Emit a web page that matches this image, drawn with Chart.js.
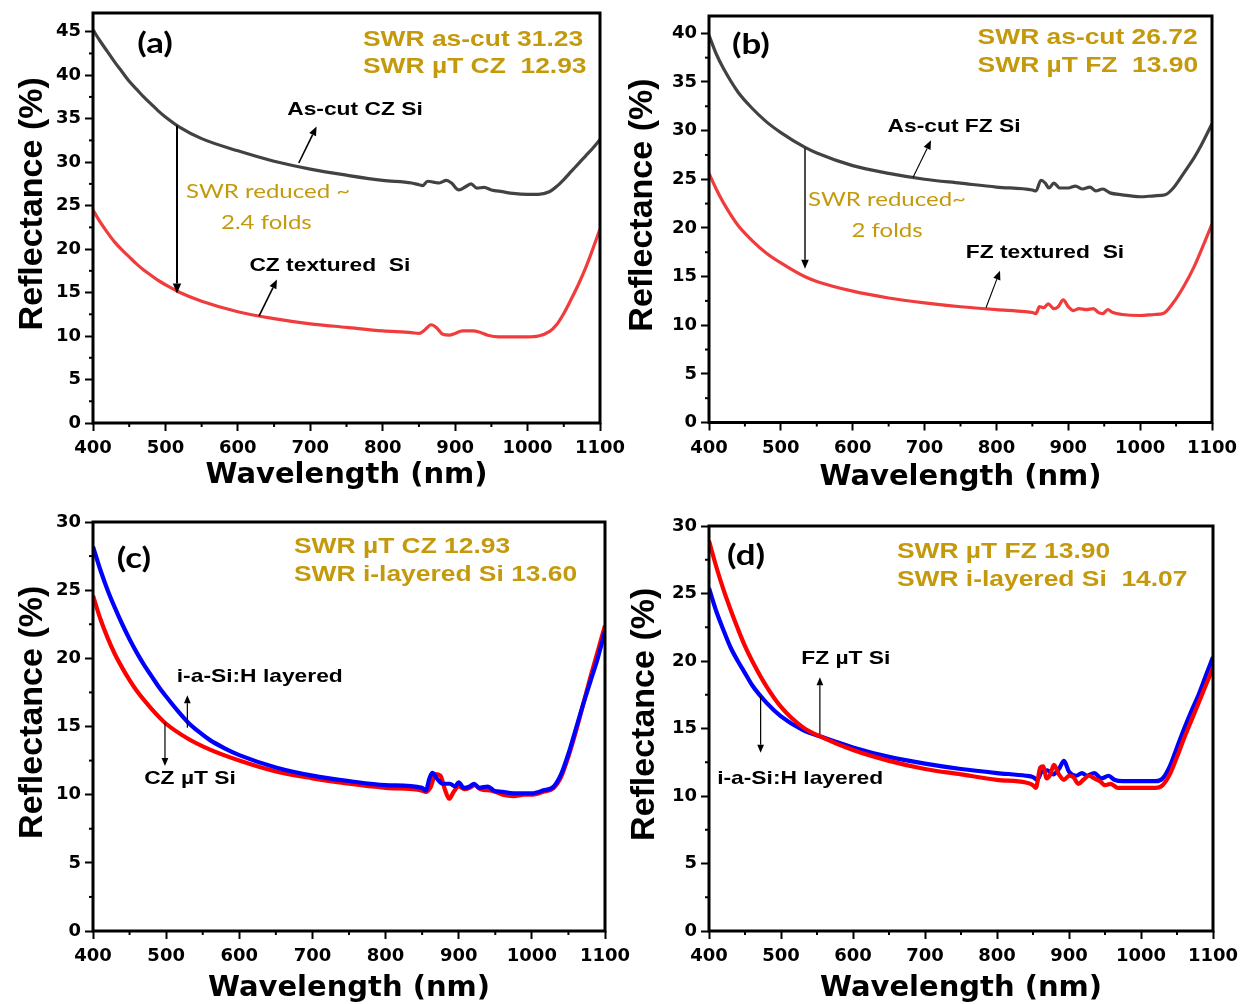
<!DOCTYPE html>
<html><head><meta charset="utf-8">
<script src="https://cdn.jsdelivr.net/npm/chart.js@4.4.1/dist/chart.umd.min.js"></script>
<style>
html,body{margin:0;padding:0;background:#fff;}
#wrap{position:relative;width:1246px;height:1004px;overflow:hidden;background:#fff;}
canvas{position:absolute;left:0;top:0;}
</style></head><body><div id="wrap">
<canvas id="pa" width="1246" height="1004"></canvas>
<canvas id="pb" width="1246" height="1004"></canvas>
<canvas id="pc" width="1246" height="1004"></canvas>
<canvas id="pd" width="1246" height="1004"></canvas>
</div>
<script>
// ---------------- DATA ----------------
const xTicks = [400,500,600,700,800,900,1000,1100];
const xTitle = 'Wavelength (nm)';
const yTitle = '   Reflectance (%)';

// (a) CZ
const wlAsCutCZ = [400,410,420,430,440,450,460,470,480,490,500,520,550,600,650,700,750,800,840,850,855,862,870,878,888,895,905,915,922,930,940,950,965,980,1000,1015,1030,1040,1050,1060,1070,1080,1090,1100];
const asCutCZ   = [45.2,43.9,42.7,41.5,40.4,39.3,38.4,37.5,36.7,35.9,35.2,34.0,32.7,31.3,30.1,29.2,28.5,27.9,27.6,27.4,27.3,27.8,27.7,27.6,27.9,27.6,26.8,27.2,27.5,27.0,27.1,26.8,26.6,26.4,26.3,26.3,26.6,27.2,28.0,28.9,29.8,30.7,31.6,32.6];
const wlTexCZ   = [400,410,420,430,440,450,460,470,480,490,500,520,550,600,650,700,750,800,840,850,858,867,875,883,892,900,910,925,935,945,960,980,1000,1015,1030,1040,1050,1060,1070,1080,1090,1100];
const texturedCZ= [24.5,23.1,21.9,20.8,19.9,19.1,18.3,17.6,17.0,16.4,15.9,15.0,14.0,12.8,12.0,11.4,11.0,10.6,10.4,10.3,10.7,11.3,10.9,10.2,10.1,10.3,10.6,10.6,10.4,10.1,9.9,9.9,9.9,10.0,10.5,11.3,12.6,14.2,15.9,17.8,20.0,22.3];

// (b) FZ
const wlAsCutFZ = [400,410,420,440,460,480,500,533,550,600,650,700,750,800,850,855,862,868,873,880,888,900,910,920,930,938,948,958,975,1000,1020,1035,1045,1055,1065,1075,1085,1100];
const asCutFZ   = [39.8,37.9,36.4,34.0,32.3,30.9,29.8,28.3,27.7,26.4,25.6,25.0,24.6,24.2,23.9,23.8,24.9,24.6,24.1,24.6,24.1,24.1,24.3,24.0,24.2,23.8,24.0,23.6,23.4,23.2,23.3,23.4,24.0,25.0,26.1,27.2,28.5,30.7];
const wlTexFZ   = [400,410,420,440,460,480,500,533,550,600,650,700,750,800,840,850,855,860,866,872,880,886,893,900,907,915,925,935,942,948,955,962,975,1000,1020,1032,1045,1060,1075,1090,1100];
const texturedFZ= [25.6,24.0,22.6,20.3,18.7,17.4,16.4,15.0,14.5,13.5,12.8,12.3,11.9,11.6,11.4,11.3,11.2,11.9,11.8,12.2,11.7,11.9,12.6,11.9,11.5,11.7,11.6,11.7,11.3,11.2,11.6,11.3,11.1,11.0,11.1,11.2,12.2,13.9,16.0,18.6,20.4];

// (c) CZ µT vs i-layered
const wlLayCZ   = [400,410,420,430,440,450,460,470,480,490,500,515,530,545,560,580,600,650,700,750,800,850,855,860,864,870,878,888,895,900,907,915,921,928,940,948,960,975,990,1000,1015,1030,1040,1050,1060,1070,1080,1090,1100];
const layeredCZ = [28.2,26.5,25.0,23.7,22.5,21.4,20.4,19.5,18.7,17.9,17.2,16.2,15.3,14.6,14.0,13.4,12.9,12.0,11.4,11.0,10.7,10.5,10.3,11.2,11.6,11.2,10.8,10.8,10.6,10.9,10.5,10.6,10.8,10.5,10.6,10.3,10.2,10.1,10.1,10.1,10.3,10.6,11.5,13.0,14.8,16.6,18.3,20.0,22.0];
const wlMuCZ    = [400,410,420,430,440,450,460,480,500,530,560,600,650,700,750,800,850,855,862,868,875,881,887,893,900,908,915,922,930,945,960,975,990,1000,1015,1030,1040,1050,1060,1070,1080,1090,1100];
const muTexCZ   = [24.6,22.9,21.5,20.3,19.3,18.4,17.6,16.3,15.2,14.1,13.3,12.5,11.7,11.2,10.8,10.5,10.3,10.2,10.6,11.5,11.4,10.4,9.7,10.2,10.6,10.4,10.5,10.7,10.4,10.3,10.0,9.9,10.0,10.0,10.2,10.5,11.3,12.8,14.6,16.6,18.6,20.5,22.4];

// (d) FZ µT vs i-layered
const wlMuFZ    = [400,410,420,430,440,450,460,480,500,530,555,600,650,700,750,800,840,850,854,860,864,869,874,879,886,893,900,906,913,920,928,935,943,950,958,968,985,1000,1020,1030,1040,1050,1060,1070,1080,1090,1100];
const muTexFZ   = [28.9,27.0,25.3,23.8,22.4,21.1,20.0,18.1,16.6,15.1,14.4,13.4,12.6,12.0,11.6,11.2,11.0,10.8,10.6,12.1,12.2,11.3,11.6,12.3,11.6,11.2,11.5,11.4,10.9,11.2,11.5,11.3,11.1,10.8,10.9,10.6,10.6,10.6,10.6,10.8,11.6,12.9,14.3,15.6,16.9,18.2,19.5];
const wlLayFZ   = [400,410,420,430,440,450,460,480,500,530,555,600,650,700,750,800,840,850,856,862,870,878,886,893,900,910,918,925,935,945,955,963,975,1000,1020,1030,1040,1050,1060,1070,1080,1090,1100];
const layeredFZ = [25.4,23.7,22.3,21.0,20.0,19.1,18.2,16.9,15.9,14.9,14.4,13.6,12.9,12.4,12.0,11.7,11.5,11.4,11.2,11.8,11.9,11.6,12.0,12.6,11.8,11.5,11.7,11.5,11.7,11.3,11.5,11.2,11.1,11.1,11.1,11.3,12.2,13.6,15.0,16.3,17.5,18.9,20.3];

// ---------------- STYLE / HELPERS ----------------
const GOLD = '#C49A0C';
const STRETCH = 1.2;
const W = 1246, H = 1004;

function pts(xs, ys){ return xs.map((x,i)=>({x:x, y:ys[i]})); }

function drawArrow(ctx, x1,y1,x2,y2,w,head){
  ctx.save();
  ctx.strokeStyle='#000'; ctx.fillStyle='#000'; ctx.lineWidth=w;
  const a=Math.atan2(y2-y1,x2-x1);
  const hx=x2-head*Math.cos(a), hy=y2-head*Math.sin(a);
  ctx.beginPath(); ctx.moveTo(x1,y1); ctx.lineTo(hx,hy); ctx.stroke();
  const hw=head*0.42;
  ctx.beginPath(); ctx.moveTo(x2,y2);
  ctx.lineTo(hx+hw*Math.sin(a), hy-hw*Math.cos(a));
  ctx.lineTo(hx-hw*Math.sin(a), hy+hw*Math.cos(a));
  ctx.closePath(); ctx.fill();
  ctx.restore();
}

function notesPlugin(notes){
  return {
    id:'notes',
    afterDraw(chart){
      const ctx=chart.ctx, xs=chart.scales.x, ys=chart.scales.y, ca=chart.chartArea;
      ctx.save();
      // minor ticks
      ctx.strokeStyle='#000'; ctx.lineWidth=2;
      for(let v=450; v<1100; v+=100){
        const px=xs.getPixelForValue(v);
        ctx.beginPath(); ctx.moveTo(px,ca.bottom); ctx.lineTo(px,ca.bottom+4); ctx.stroke();
      }
      for(let v=2.5; v<ys.max; v+=5){
        const py=ys.getPixelForValue(v);
        ctx.beginPath(); ctx.moveTo(ca.left-4,py); ctx.lineTo(ca.left,py); ctx.stroke();
      }
      // frame
      ctx.lineWidth=3;
      ctx.strokeRect(ca.left, ca.top, ca.right-ca.left, ca.bottom-ca.top);
      // notes
      notes.forEach(n=>{
        if(n.arrow){
          drawArrow(ctx, xs.getPixelForValue(n.x1), ys.getPixelForValue(n.y1),
                    xs.getPixelForValue(n.x2), ys.getPixelForValue(n.y2), n.w||1.6, n.head||9);
        } else {
          ctx.save();
          ctx.translate(xs.getPixelForValue(n.x), ys.getPixelForValue(n.y));
          ctx.scale(STRETCH,1);
          ctx.font=n.font; ctx.fillStyle=n.color||'#000';
          ctx.textAlign=n.align||'center'; ctx.textBaseline='middle';
          ctx.fillText(n.text,0,0);
          ctx.restore();
        }
      });
      ctx.restore();
    }
  };
}

function makePanel(id, box, yMax, datasets, notes){
  const wY = box.L - box.yLeft, hX = box.xBottom - box.B;
  const tickFont = {family:'DejaVu Sans', weight:'bold', size:18};
  new Chart(document.getElementById(id), {
    type:'line',
    data:{datasets:datasets},
    options:{
      responsive:false, animation:false, devicePixelRatio:1,
      layout:{padding:{left:box.yLeft, top:box.T, right:W-box.R, bottom:H-box.xBottom}},
      plugins:{legend:{display:false}, tooltip:{enabled:false}},
      elements:{point:{radius:0}},
      scales:{
        x:{type:'linear', min:400, max:1100,
           afterBuildTicks(s){ s.ticks = xTicks.map(v=>({value:v})); },
           afterFit(s){ s.height=hX; s.paddingLeft=0; s.paddingRight=0; },
           ticks:{stepSize:100, color:'#000', font:tickFont, padding:7, maxRotation:0, autoSkip:false, includeBounds:false,
                  callback:(v)=>String(v)},
           grid:{drawOnChartArea:false, drawTicks:true, tickLength:8, tickWidth:2, tickColor:'#000', color:'#000'},
           border:{display:false},
           title:{display:true, text:xTitle, color:'#000', padding:0,
                  font:{family:'DejaVu Sans', weight:'bold', size:29, lineHeight:1}}},
        y:{type:'linear', min:0, max:yMax,
           afterFit(s){ s.width=wY; s.paddingTop=0; s.paddingBottom=0; },
           ticks:{stepSize:5, color:'#000', font:tickFont, padding:4, autoSkip:false, includeBounds:false,
                  callback:(v)=>String(v)},
           grid:{drawOnChartArea:false, drawTicks:true, tickLength:8, tickWidth:2, tickColor:'#000', color:'#000'},
           border:{display:false},
           title:{display:true, text:yTitle, color:'#000', padding:0,
                  font:{family:'Liberation Sans', weight:'bold', size:34, lineHeight:1}}}
      }
    },
    plugins:[notesPlugin(notes)]
  });
}

function ds(xs, ys, color, width){
  return {data:pts(xs,ys), borderColor:color, borderWidth:width, pointRadius:0,
          cubicInterpolationMode:'monotone', fill:false};
}

const fGold = 'bold 22px "Liberation Sans"';
const fLab  = 'bold 19px "Liberation Sans"';
const fPan  = 'bold 29px "Lato"';
const fRed  = '20px "Lato"';

// (a)
makePanel('pa', {L:93,T:13,R:600,B:423,yLeft:16,xBottom:489.5}, 47.15, [
  ds(wlAsCutCZ, asCutCZ, '#424242', 3.2),
  ds(wlTexCZ, texturedCZ, '#F03C3C', 3.2)
], [
  {text:'(a)', x:485.6, y:43.6, font:fPan},
  {text:'SWR as-cut 31.23', x:772.8, y:44.07, font:fGold, color:GOLD, align:'left'},
  {text:'SWR \u00b5T CZ  12.93', x:772.8, y:40.97, font:fGold, color:GOLD, align:'left'},
  {text:'As-cut CZ Si', x:761.7, y:36.0, font:fLab},
  {arrow:true, x1:684.1, y1:29.9, x2:708.7, y2:34.1, w:1.6, head:9},
  {arrow:true, x1:516, y1:34.2, x2:516, y2:14.9, w:2, head:10},
  {text:'SWR reduced ~', x:528.4, y:26.6, font:fRed, color:GOLD, align:'left'},
  {text:'2.4 folds', x:576.7, y:23.0, font:fRed, color:GOLD, align:'left'},
  {text:'CZ textured  Si', x:727, y:18.1, font:fLab},
  {arrow:true, x1:629.2, y1:12.3, x2:654, y2:16.5, w:1.6, head:9}
]);

// (b)
makePanel('pb', {L:709,T:16,R:1212,B:422.5,yLeft:626,xBottom:491.5}, 41.78, [
  ds(wlAsCutFZ, asCutFZ, '#424242', 3.2),
  ds(wlTexFZ, texturedFZ, '#F03C3C', 3.2)
], [
  {text:'(b)', x:458.4, y:38.8, font:fPan},
  {text:'SWR as-cut 26.72', x:773.8, y:39.49, font:fGold, color:GOLD, align:'left'},
  {text:'SWR \u00b5T FZ  13.90', x:773.8, y:36.6, font:fGold, color:GOLD, align:'left'},
  {text:'As-cut FZ Si', x:741, y:30.4, font:fLab},
  {arrow:true, x1:684, y1:25.2, x2:709, y2:29.0, w:1.1, head:9},
  {arrow:true, x1:533.6, y1:28.2, x2:533.6, y2:15.8, w:1.4, head:9},
  {text:'SWR reduced~', x:537.8, y:22.9, font:fRed, color:GOLD, align:'left'},
  {text:'2 folds', x:598.3, y:19.7, font:fRed, color:GOLD, align:'left'},
  {text:'FZ textured  Si', x:867.6, y:17.4, font:fLab},
  {arrow:true, x1:785.5, y1:11.8, x2:805, y2:15.6, w:1.1, head:9}
]);

// (c)
makePanel('pc', {L:93,T:522,R:605,B:931,yLeft:16,xBottom:1002.5}, 30, [
  ds(wlLayCZ, layeredCZ, '#0000FF', 4.2),
  ds(wlMuCZ, muTexCZ, '#FF0000', 4.2)
], [
  {text:'(c)', x:456, y:27.3, font:fPan},
  {text:'SWR \u00b5T CZ 12.93', x:674.8, y:28.16, font:fGold, color:GOLD, align:'left'},
  {text:'SWR i-layered Si 13.60', x:674.8, y:26.12, font:fGold, color:GOLD, align:'left'},
  {text:'i-a-Si:H layered', x:628, y:18.65, font:fLab},
  {arrow:true, x1:529, y1:14.9, x2:529, y2:17.3, w:1.2, head:8},
  {text:'CZ \u00b5T Si', x:532.6, y:11.2, font:fLab},
  {arrow:true, x1:498.4, y1:15.3, x2:498.4, y2:12.1, w:1.2, head:8}
]);

// (d)
makePanel('pd', {L:709,T:526,R:1213,B:931,yLeft:628,xBottom:1002.5}, 30, [
  ds(wlMuFZ, muTexFZ, '#FF0000', 4.2),
  ds(wlLayFZ, layeredFZ, '#0000FF', 4.2)
], [
  {text:'(d)', x:451.4, y:27.8, font:fPan},
  {text:'SWR \u00b5T FZ 13.90', x:661, y:28.09, font:fGold, color:GOLD, align:'left'},
  {text:'SWR i-layered Si  14.07', x:661, y:26.02, font:fGold, color:GOLD, align:'left'},
  {text:'FZ \u00b5T Si', x:590, y:20.2, font:fLab},
  {arrow:true, x1:554, y1:14.6, x2:554, y2:18.8, w:1.2, head:8},
  {text:'i-a-Si:H layered', x:526.6, y:11.3, font:fLab},
  {arrow:true, x1:471.7, y1:17.4, x2:471.7, y2:13.2, w:1.2, head:8}
]);
</script>
</body></html>
